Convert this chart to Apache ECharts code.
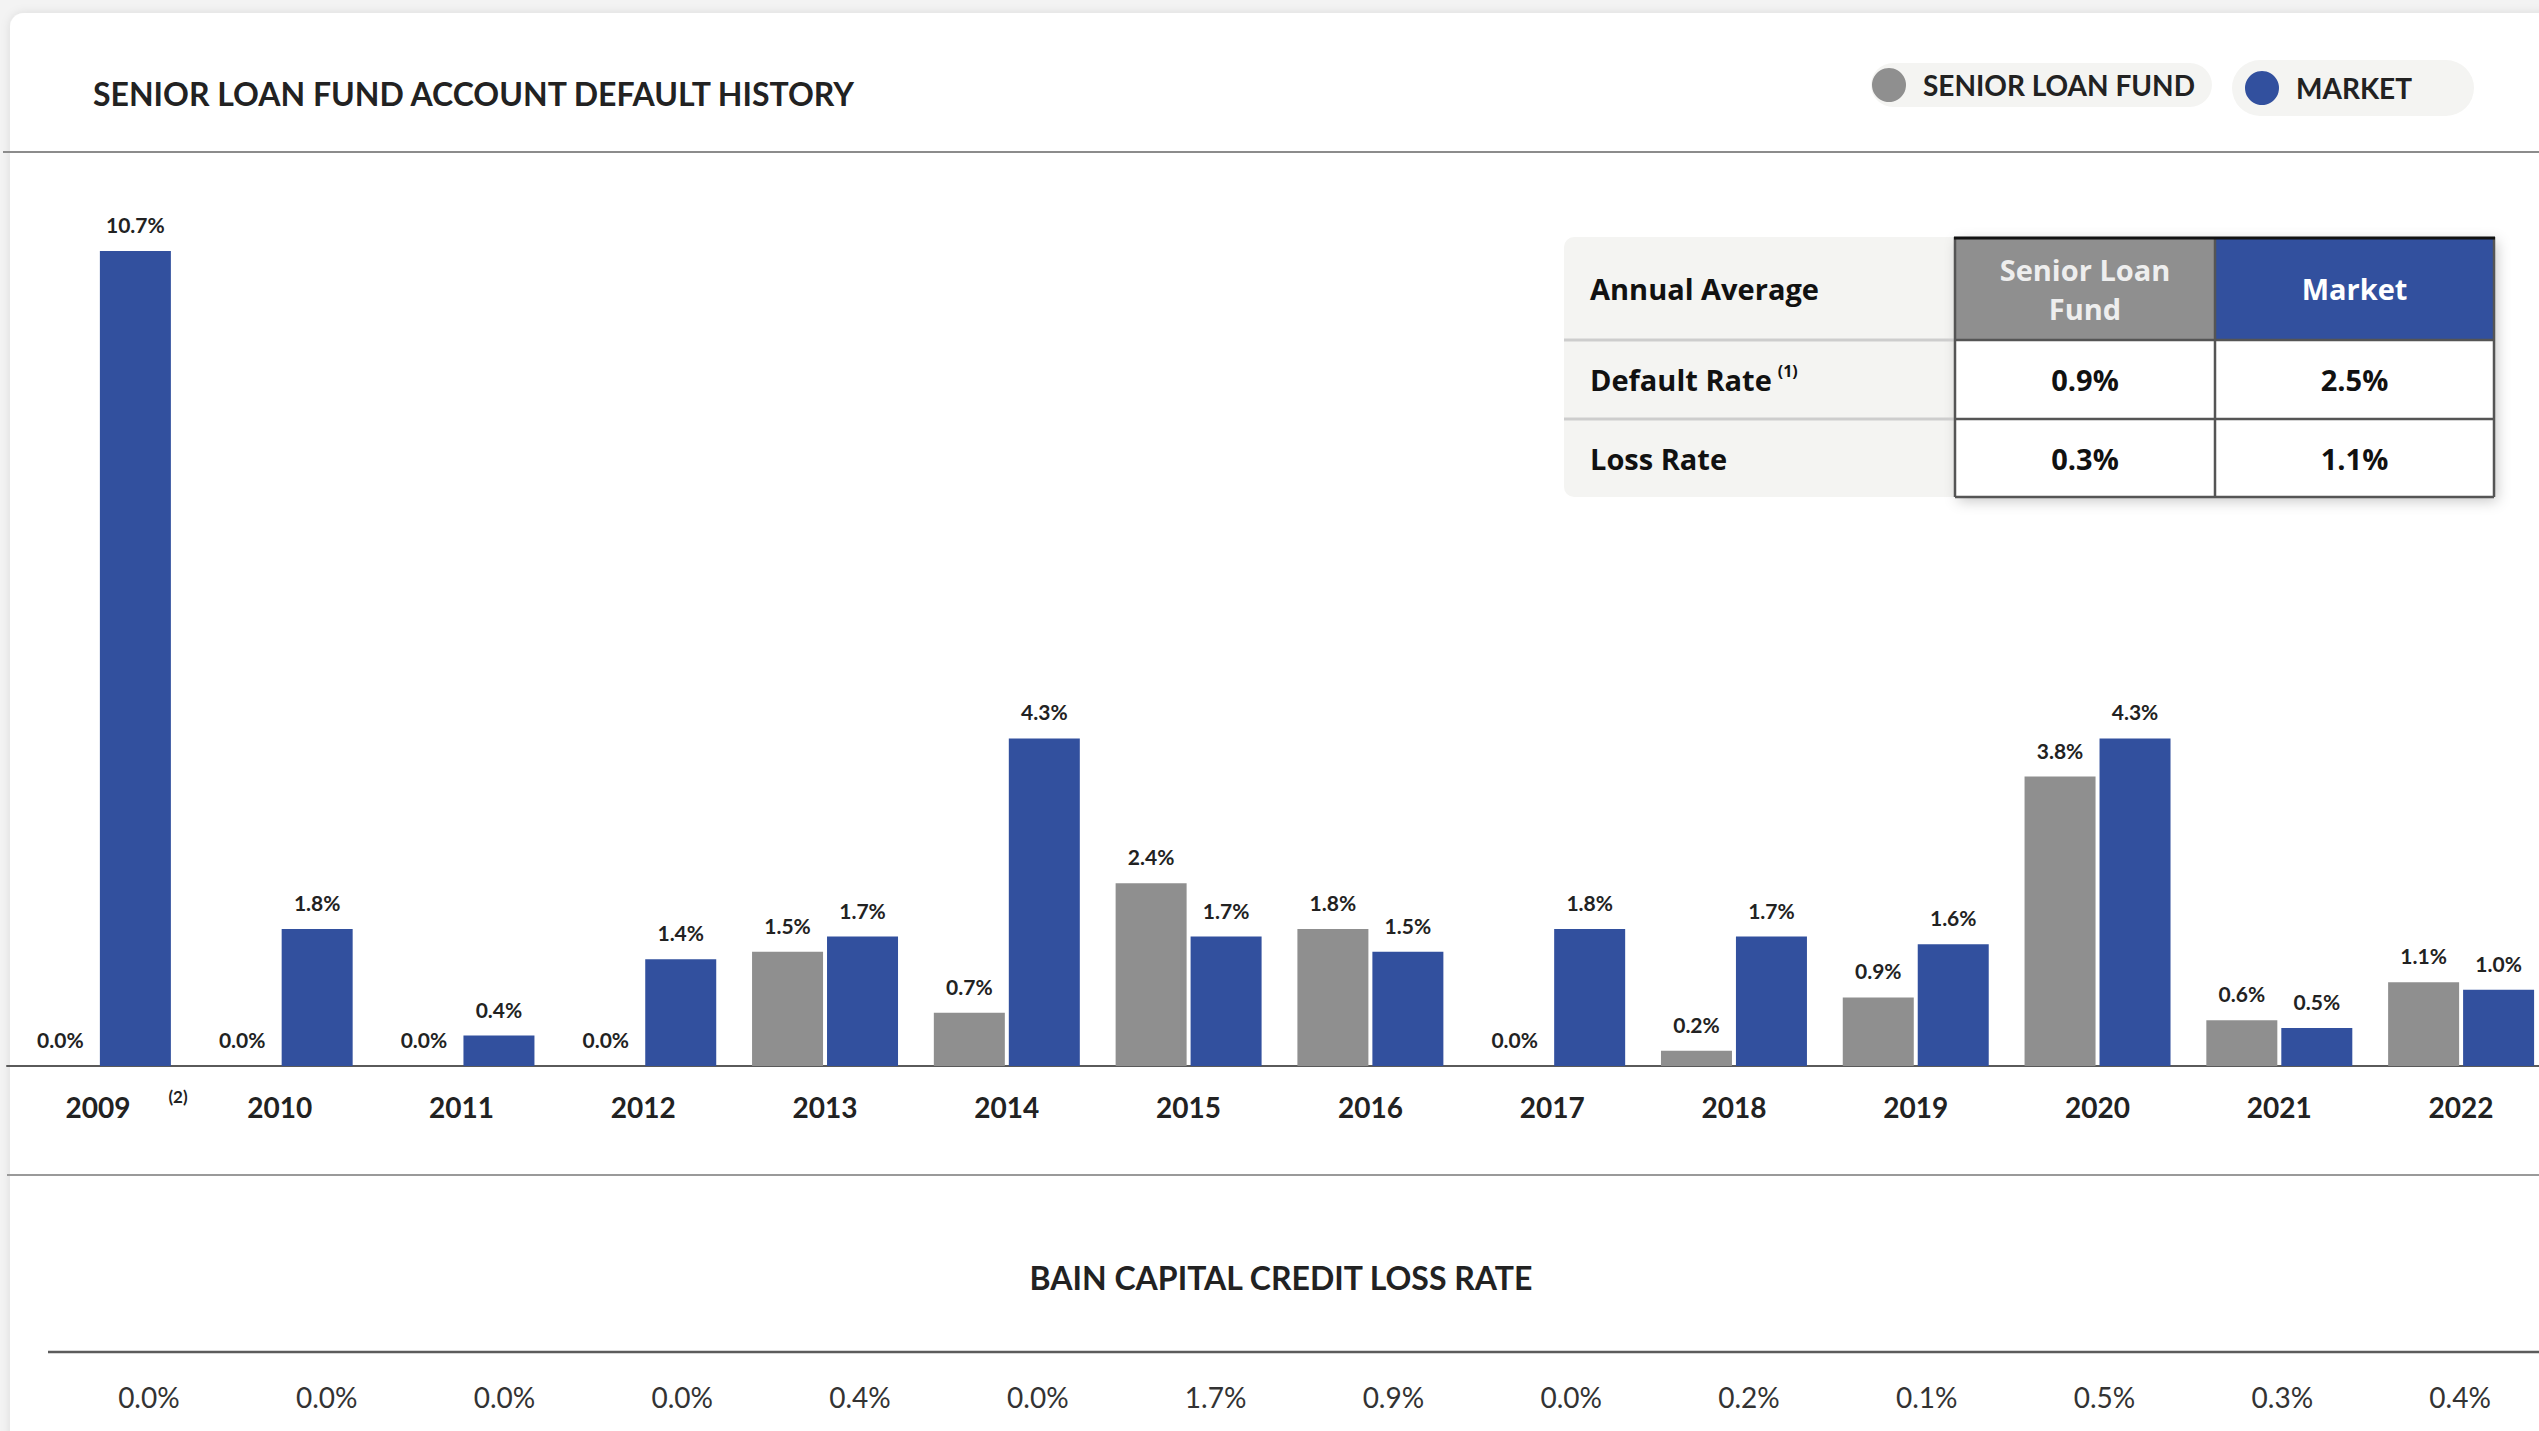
<!DOCTYPE html>
<html>
<head>
<meta charset="utf-8">
<title>Senior Loan Fund Account Default History</title>
<script src="https://cdn.jsdelivr.net/npm/echarts@6/dist/echarts.min.js"></script>
<style>
  html, body { margin: 0; padding: 0; background: #f3f3f3; overflow: hidden; }
  /* the plot runs a little past the right edge of the window */
  #chart { width: 2552px; height: 1431px; }
</style>
</head>
<body>
<div id="chart"></div>
<script>
// Annual default rates (%), by year
const years = ['2009', '2010', '2011', '2012', '2013', '2014', '2015', '2016', '2017', '2018', '2019', '2020', '2021', '2022'];
const seniorLoanFund = [0.0, 0.0, 0.0, 0.0, 1.5, 0.7, 2.4, 1.8, 0.0, 0.2, 0.9, 3.8, 0.6, 1.1];
const market = [10.7, 1.8, 0.4, 1.4, 1.7, 4.3, 1.7, 1.5, 1.8, 1.7, 1.6, 4.3, 0.5, 1.0];

// Bain Capital credit loss rate (%), same years
const bainLossRate = [0.0, 0.0, 0.0, 0.0, 0.4, 0.0, 1.7, 0.9, 0.0, 0.2, 0.1, 0.5, 0.3, 0.4];

// Annual average table
const avgRowLabels = ['Default Rate', 'Loss Rate'];
const avgSeniorLoanFund = [0.9, 0.3];
const avgMarket = [2.5, 1.1];

const SERIES_NAMES = ['SENIOR LOAN FUND', 'MARKET'];
const GRAY = '#8f8f8f';
const BLUE = '#32509e';
const INK = '#222222';
const FONT = 'Lato, "Open Sans", "Noto Sans", sans-serif';
const TABLE_FONT = '"Open Sans", "Noto Sans", Lato, sans-serif';
const EDGE = 2552;

const pct = v => v.toFixed(1) + '%';

// Table geometry
const tbl = { left: 1564, colA: 1955, colB: 2215, right: 2494, top: 237, row1: 340, row2: 419, bottom: 497 };

function hLine(x1, x2, y, stroke, w, z) {
  return { type: 'line', z: z, shape: { x1: x1, y1: y, x2: x2, y2: y }, style: { stroke: stroke, lineWidth: w } };
}
function vLine(x, y1, y2, stroke, w, z) {
  return { type: 'line', z: z, shape: { x1: x, y1: y1, x2: x, y2: y2 }, style: { stroke: stroke, lineWidth: w } };
}
function cellText(text, x, y, opts) {
  return {
    type: 'text', z: 120, x: x, y: y,
    style: Object.assign({
      text: text, fill: '#111', font: 'bold 29px ' + TABLE_FONT,
      align: 'center', verticalAlign: 'middle'
    }, opts || {})
  };
}

const midA = (tbl.colA + tbl.colB) / 2;
const midB = (tbl.colB + tbl.right) / 2;
const rowMid = [(tbl.row1 + tbl.row2) / 2, (tbl.row2 + tbl.bottom) / 2];

const tableElements = [
  // left label block
  { type: 'rect', z: 100, shape: { x: tbl.left, y: tbl.top, width: tbl.colA - tbl.left, height: tbl.bottom - tbl.top, r: [10, 0, 0, 10] },
    style: { fill: '#f4f4f2' } },
  // value block with shadow
  { type: 'rect', z: 100, shape: { x: tbl.colA, y: tbl.top, width: tbl.right - tbl.colA, height: tbl.bottom - tbl.top },
    style: { fill: '#ffffff', shadowBlur: 14, shadowOffsetX: 3, shadowOffsetY: 4, shadowColor: 'rgba(0,0,0,0.22)' } },
  { type: 'rect', z: 101, shape: { x: tbl.colA, y: tbl.top, width: tbl.colB - tbl.colA, height: tbl.row1 - tbl.top }, style: { fill: GRAY } },
  { type: 'rect', z: 101, shape: { x: tbl.colB, y: tbl.top, width: tbl.right - tbl.colB, height: tbl.row1 - tbl.top }, style: { fill: BLUE } },
  hLine(tbl.left, tbl.colA, tbl.row1, '#cdcdcd', 3, 102),
  hLine(tbl.left, tbl.colA, tbl.row2, '#cdcdcd', 3, 102),
  hLine(tbl.colA, tbl.right, tbl.row1, '#555555', 2.5, 103),
  hLine(tbl.colA, tbl.right, tbl.row2, '#555555', 2.5, 103),
  hLine(tbl.colA, tbl.right, tbl.bottom, '#555555', 2.5, 103),
  vLine(tbl.colA, tbl.top, tbl.bottom, '#555555', 2.5, 103),
  vLine(tbl.colB, tbl.top, tbl.bottom, '#555555', 2.5, 103),
  vLine(tbl.right, tbl.top, tbl.bottom, '#555555', 2.5, 103),
  hLine(tbl.colA - 1, tbl.right + 1, tbl.top + 1, '#111111', 3, 104),
  // header
  cellText('Annual Average', tbl.left + 26, (tbl.top + tbl.row1) / 2, { align: 'left' }),
  cellText('Senior Loan\nFund', midA, (tbl.top + tbl.row1) / 2, { fill: '#eeeeee', lineHeight: 39 }),
  cellText('Market', midB, (tbl.top + tbl.row1) / 2, { fill: '#ffffff' }),
  // rows
  {
    type: 'text', z: 120, x: tbl.left + 26, y: rowMid[0],
    style: {
      text: '{lbl|' + avgRowLabels[0] + '}{sup|(1)}',
      align: 'left', verticalAlign: 'middle',
      rich: {
        lbl: { font: 'bold 29px ' + TABLE_FONT, fill: '#111', lineHeight: 34 },
        sup: { font: 'bold 16px ' + TABLE_FONT, fill: '#111', verticalAlign: 'top', padding: [0, 0, 0, 6], lineHeight: 18 }
      }
    }
  },
  cellText(avgRowLabels[1], tbl.left + 26, rowMid[1], { align: 'left' })
];
avgSeniorLoanFund.forEach((v, i) => tableElements.push(cellText(pct(v), midA, rowMid[i])));
avgMarket.forEach((v, i) => tableElements.push(cellText(pct(v), midB, rowMid[i])));

const barLabel = {
  show: true, position: 'top', distance: 16,
  formatter: p => pct(p.value),
  fontFamily: FONT, fontSize: 21, fontWeight: 'bold', color: INK, lineHeight: 21
};

const legendCommon = {
  orient: 'horizontal', icon: 'circle', itemWidth: 34, itemHeight: 34,
  backgroundColor: '#f4f4f2',
  textStyle: { fontFamily: FONT, fontWeight: 'bold', fontSize: 28, color: INK, padding: [0, 0, 0, 12] }
};

const option = {
  animation: false,
  backgroundColor: 'transparent',
  title: {
    text: 'SENIOR LOAN FUND ACCOUNT DEFAULT HISTORY',
    left: 88, top: 72,
    textStyle: { fontFamily: FONT, fontWeight: 'bold', fontSize: 32, lineHeight: 32, color: INK }
  },
  legend: [
    Object.assign({}, legendCommon, { data: [SERIES_NAMES[0]], left: 1871, top: 63, padding: [5, 17, 5, 1], borderRadius: 23 }),
    Object.assign({}, legendCommon, { data: [SERIES_NAMES[1]], left: 2232, top: 60, padding: [11, 62, 11, 13], borderRadius: 28 })
  ],
  grid: [
    { left: 7, right: 0, top: 152, bottom: 365, containLabel: false },
    { left: 60, right: 3, top: 1340, height: 12, containLabel: false }
  ],
  xAxis: [
    {
      gridIndex: 0, type: 'category', data: years,
      axisLine: { show: true, lineStyle: { color: '#5a5a5a', width: 2 } },
      axisTick: { show: false },
      axisLabel: { interval: 0, margin: 26, fontFamily: FONT, fontWeight: 'bold', fontSize: 28, lineHeight: 30, color: INK }
    },
    {
      gridIndex: 1, type: 'category', data: years,
      axisLine: { show: false }, axisTick: { show: false },
      axisLabel: {
        interval: 0, margin: 31, fontFamily: FONT, fontSize: 28, lineHeight: 28, color: '#333',
        formatter: (v, i) => pct(bainLossRate[i])
      }
    }
  ],
  yAxis: [
    { gridIndex: 0, type: 'value', min: 0, max: 12, show: false },
    { gridIndex: 1, type: 'value', min: 0, max: 1, show: false }
  ],
  series: [
    {
      name: SERIES_NAMES[0], type: 'bar', xAxisIndex: 0, yAxisIndex: 0,
      data: seniorLoanFund, barWidth: 71, barGap: '5.6%',
      itemStyle: { color: GRAY }, label: barLabel
    },
    {
      name: SERIES_NAMES[1], type: 'bar', xAxisIndex: 0, yAxisIndex: 0,
      data: market, barWidth: 71, barGap: '5.6%',
      itemStyle: { color: BLUE }, label: barLabel
    }
  ],
  graphic: [
    // card panel
    { type: 'rect', z: -10, shape: { x: 10, y: 13, width: 2600, height: 1500, r: 14 },
      style: { fill: '#ffffff', shadowBlur: 10, shadowColor: 'rgba(0,0,0,0.10)' } },
    hLine(3, EDGE, 152, '#8c8c8c', 2, 1),
    hLine(7, EDGE, 1175, '#9a9a9a', 2, 1),
    hLine(48, EDGE, 1352, '#5c5c5c', 2.5, 1),
    { type: 'text', z: 5, x: 178, y: 1096,
      style: { text: '(2)', font: 'bold 17px ' + FONT, fill: INK, align: 'center', verticalAlign: 'middle' } },
    { type: 'text', z: 5, x: 1281, y: 1277,
      style: { text: 'BAIN CAPITAL CREDIT LOSS RATE', font: 'bold 32px ' + FONT, fill: INK, align: 'center', verticalAlign: 'middle' } }
  ].concat(tableElements)
};

const chart = echarts.init(document.getElementById('chart'), null, { renderer: 'svg' });
chart.setOption(option);
</script>
</body>
</html>
